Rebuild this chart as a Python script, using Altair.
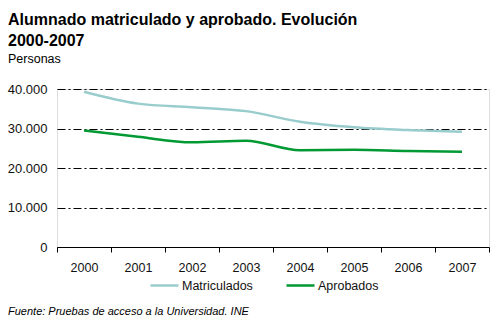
import altair as alt
import pandas as pd

years = [2000, 2001, 2002, 2003, 2004, 2005, 2006, 2007]
series = ["Matriculados", "Aprobados"]
matriculados = [39300, 36300, 35400, 34400, 31700, 30300, 29600, 29200]
aprobados = [29500, 27900, 26500, 26900, 24500, 24600, 24300, 24100]
y_ticks = [0, 10000, 20000, 30000, 40000]
colors = ["#99CCCC", "#009933"]

rows = []
for i, yr in enumerate(years):
    rows.append({"year": yr, "serie": series[0], "value": matriculados[i]})
    rows.append({"year": yr, "serie": series[1], "value": aprobados[i]})
df = pd.DataFrame(rows)

FONT = "Liberation Sans"
xscale = alt.Scale(domain=[1999.5, 2007.5], nice=False, zero=False)
yscale = alt.Scale(domain=[0, 40000], nice=False)
boundaries = [1999.5 + i for i in range(9)]

lines = alt.Chart(df).mark_line(interpolate="monotone", strokeWidth=2.5).encode(
    x=alt.X("year:Q", scale=xscale,
            axis=alt.Axis(values=boundaries, labels=False, domain=True, domainColor="black",
                          domainWidth=1, ticks=True, tickSize=5, tickColor="black", grid=False,
                          title=None, orient="bottom")),
    y=alt.Y("value:Q", scale=yscale,
            axis=alt.Axis(values=y_ticks, labelExpr="replace(format(datum.value, ',d'), ',', '.')",
                          grid=True, gridDash=[8, 3, 2, 3], gridColor="black", gridWidth=1,
                          domain=False, ticks=False, title=None, labelPadding=10,
                          labelOverlap=False,
                          labelFont=FONT, labelFontSize=13, labelColor="#111111")),
    color=alt.Color("serie:N", sort=series,
                    scale=alt.Scale(domain=series, range=colors),
                    legend=alt.Legend(title=None, orient="none", direction="horizontal",
                                      legendX=92, legendY=181, symbolType="stroke",
                                      symbolSize=784, symbolStrokeWidth=2.5,
                                      labelFont=FONT, labelFontSize=12.5, labelColor="#111111",
                                      labelOffset=2, columnPadding=28)),
)

labels_layer = alt.Chart(df).mark_point(opacity=0).encode(
    x=alt.X("year:Q", scale=xscale,
            axis=alt.Axis(values=years, format="d", ticks=False, domain=False, grid=False,
                          title=None, orient="bottom", labelPadding=14, labelOverlap=False,
                          labelFont=FONT, labelFontSize=12.5, labelColor="#111111")),
)

one = pd.DataFrame([{"t": 1}])
def txt(s, x, y, size, weight="normal", style="normal"):
    return alt.Chart(one).mark_text(text=s, align="left", baseline="alphabetic",
                                    font=FONT, fontSize=size, fontWeight=weight,
                                    fontStyle=style, color="black").encode(
        x=alt.value(x), y=alt.value(y))

texts = (txt("Alumnado matriculado y aprobado. Evolución", -49, -64, 16, "bold")
         + txt("2000-2007", -49, -43, 16, "bold")
         + txt("Personas", -49, -26, 12.5)
         + txt("Fuente: Pruebas de acceso a la Universidad. INE", -49, 226, 11, style="italic"))

chart = alt.layer(lines, labels_layer, texts).resolve_axis(x="independent").properties(
    width=432, height=158,
    autosize=alt.AutoSizeParams(type="none"),
    padding={"left": 57, "top": 89, "right": 2, "bottom": 80},
).configure_view(stroke=None).configure(background="white")

chart.save("out.html", embed_options={"renderer": "svg", "actions": False})
